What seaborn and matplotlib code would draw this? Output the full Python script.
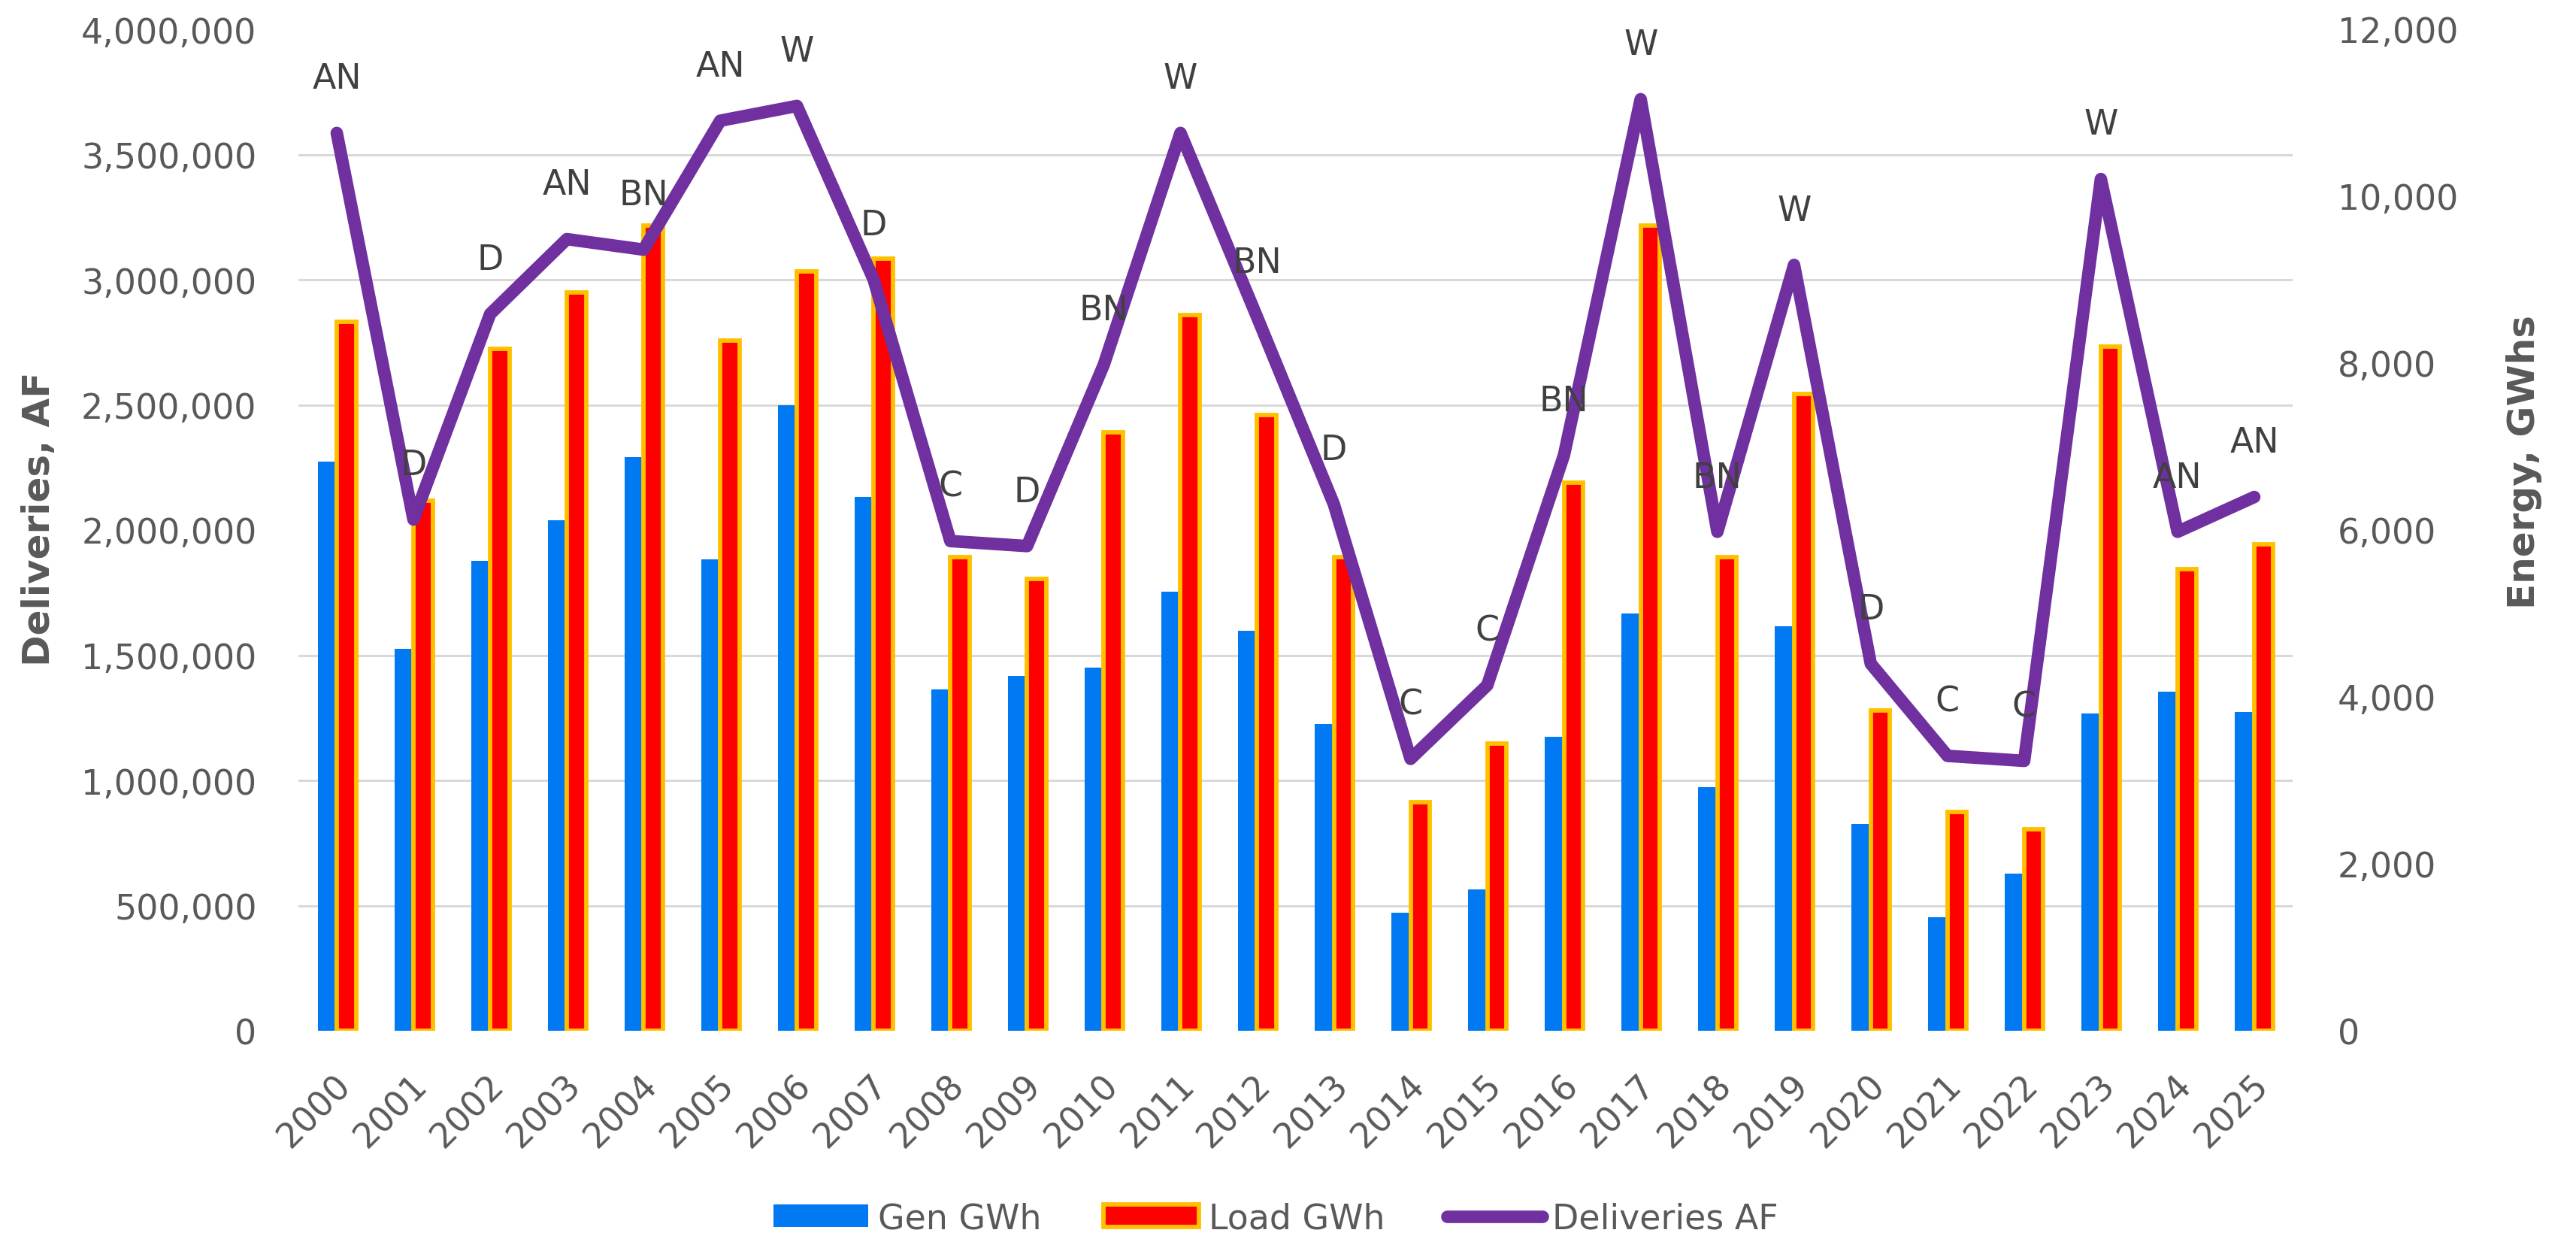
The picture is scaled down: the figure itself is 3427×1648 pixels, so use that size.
import numpy as np
import pandas as pd
import matplotlib
matplotlib.use("Agg")
import matplotlib.pyplot as plt
import seaborn as sns
from matplotlib.patches import Patch
from matplotlib.lines import Line2D
from matplotlib.ticker import FuncFormatter, FixedLocator
from matplotlib.transforms import ScaledTranslation

# Data
years = ['2000', '2001', '2002', '2003', '2004', '2005', '2006', '2007', '2008', '2009',
         '2010', '2011', '2012', '2013', '2014', '2015', '2016', '2017', '2018', '2019',
         '2020', '2021', '2022', '2023', '2024', '2025']
gen_gwh = [6820, 4580, 5630, 6120, 6870, 5650, 7500, 6400, 4090, 4250,
           4350, 5260, 4790, 3680, 1410, 1690, 3520, 5000, 2920, 4850,
           2480, 1360, 1880, 3800, 4060, 3820]
load_gwh = [8500, 6350, 8170, 8850, 9650, 8270, 9100, 9250, 5680, 5410,
            7170, 8580, 7380, 5680, 2740, 3440, 6570, 9650, 5680, 7630,
            3840, 2620, 2410, 8200, 5530, 5830]
deliveries_af = [3586000, 2042000, 2863000, 3162000, 3120000, 3635000, 3694000, 3000000,
                 1956000, 1936000, 2660000, 3586000, 2850000, 2103000, 1086000, 1380000,
                 2299000, 3721000, 1993000, 3059000, 1466000, 1098000, 1078000, 3402000,
                 1993000, 2132000]
year_type = ['AN', 'D', 'D', 'AN', 'BN', 'AN', 'W', 'D', 'C', 'D',
             'BN', 'W', 'BN', 'D', 'C', 'C', 'BN', 'W', 'BN', 'W',
             'D', 'C', 'C', 'W', 'AN', 'AN']

blue = '#0079F2'
red = '#FF0000'
gold = '#FFC000'
purple = '#7030A0'
grid_c = '#D9D9D9'
tick_c = '#595959'

sns.set_style("white")
plt.rcParams['font.family'] = ['DejaVu Sans']

bars_df = pd.DataFrame({
    'Year': years + years,
    'GWh': gen_gwh + load_gwh,
    'Series': ['Gen GWh'] * len(years) + ['Load GWh'] * len(years),
})

fig = plt.figure(figsize=(34.27, 16.49), dpi=100)
ax = fig.add_axes([397 / 3427, 1 - 1372 / 1649, (3050 - 397) / 3427, (1372 - 40) / 1649])

sns.barplot(data=bars_df, x='Year', y='GWh', hue='Series', order=years,
            hue_order=['Gen GWh', 'Load GWh'], palette={'Gen GWh': blue, 'Load GWh': red},
            width=0.5, gap=0, linewidth=0, saturation=1, legend=False, ax=ax)
for bar in ax.containers[1]:
    bar.set_edgecolor(gold)
    bar.set_linewidth(4.2)

# deliveries on the left axis (twin drawn above the bars)
axl = ax.twinx()
sns.lineplot(x=np.arange(len(years)), y=deliveries_af, ax=axl, color=purple,
             linewidth=12, sort=False, solid_joinstyle='round', solid_capstyle='round')
axl.set_ylim(0, 4000000)
axl.set_yticks(np.arange(0, 4000001, 500000))
axl.yaxis.tick_left()
axl.yaxis.set_major_formatter(FuncFormatter(lambda v, p: f'{v:,.0f}'))
axl.tick_params(axis='y', length=0, labelsize=33, labelcolor=tick_c, pad=40)
axl.grid(False)
axl.set_ylabel('')
for s in axl.spines.values():
    s.set_visible(False)

# energy axis on the right, gridlines follow the deliveries scale
ax.set_ylim(0, 12000)
ax.set_yticks(np.arange(0, 12001, 2000))
ax.yaxis.set_minor_locator(FixedLocator(np.linspace(0, 12000, 9)))
ax.yaxis.tick_right()
ax.yaxis.set_major_formatter(FuncFormatter(lambda v, p: f'{v:,.0f}'))
ax.grid(False)
ax.grid(which='minor', axis='y', color=grid_c, linewidth=2.2)
ax.set_axisbelow(True)
ax.tick_params(axis='y', which='both', length=0, labelsize=33, labelcolor=tick_c, pad=43,
               left=False, labelleft=False, right=False, labelright=True)
ax.set_xlim(-0.5, len(years) - 0.5)
ax.set_xticks(range(len(years)))
ax.set_xticklabels(years, rotation=45, ha='right', va='center', rotation_mode='anchor')
ax.tick_params(axis='x', length=0, labelsize=33, labelcolor=tick_c, pad=47)
shift = ScaledTranslation(0.12, 0, fig.dpi_scale_trans)
for lab in ax.get_xticklabels():
    lab.set_transform(lab.get_transform() + shift)
ax.set_xlabel('')
ax.set_ylabel('')
for s in ax.spines.values():
    s.set_visible(False)
axl.set_xlim(-0.5, len(years) - 0.5)

for i, (v, t) in enumerate(zip(deliveries_af, year_type)):
    axl.annotate(t, (i, v), xytext=(0, 52), textcoords='offset points',
                 ha='center', va='center', fontsize=33, color='#404040')

fig.text(52 / 3427, 1 - 690 / 1649, 'Deliveries, AF', rotation=90, ha='center', va='center',
         fontsize=36, fontweight='bold', color=tick_c)
fig.text(3358 / 3427, 1 - 615 / 1649, 'Energy, GWhs', rotation=90, ha='center', va='center',
         fontsize=36, fontweight='bold', color=tick_c)

handles = [Patch(facecolor=blue, edgecolor='none'),
           Patch(facecolor=red, edgecolor=gold, linewidth=4.2),
           Line2D([0], [0], color=purple, linewidth=12, solid_capstyle='round')]
fig.legend(handles, ['Gen GWh', 'Load GWh', 'Deliveries AF'], loc='center',
           bbox_to_anchor=(1697 / 3427, 27 / 1649), ncol=3, frameon=False,
           fontsize=33, labelcolor=tick_c, handlelength=2.77, handleheight=0.63,
           handletextpad=0.28, columnspacing=1.8)

fig.savefig('out.png', dpi=100)
